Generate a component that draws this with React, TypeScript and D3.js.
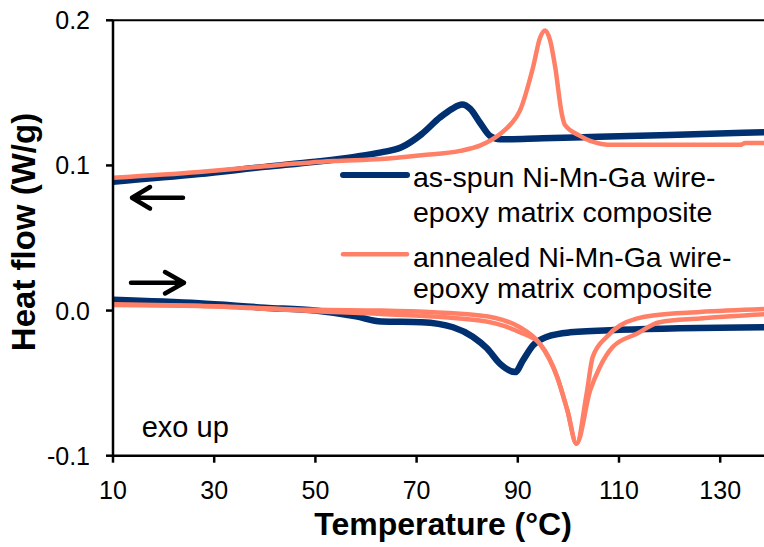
import React from "react";
import * as d3 from "d3";

// DSC traces, temperature (°C) and heat flow (W/g)
const asSpunCoolT = [10, 27, 40, 50, 58, 63, 67, 71, 74.6, 77, 79, 80.6, 82.5, 84.5, 86.5, 95, 106, 120, 140];
const asSpunCoolHF = [0.0888, 0.094, 0.099, 0.1025, 0.106, 0.109, 0.1125, 0.1216, 0.133, 0.139, 0.142, 0.139, 0.1296, 0.1204, 0.118, 0.1188, 0.1197, 0.121, 0.123];

const annealedCoolT = [10, 27, 40, 53.5, 63, 71, 78.6, 82.5, 86.5, 88.5, 90.4, 93, 94.4, 95.4, 96.4, 97.4, 98.7, 99.3, 102.3, 104.3, 108.8, 133.9, 135, 140];
const annealedCoolHF = [0.0915, 0.0955, 0.0995, 0.103, 0.1044, 0.107, 0.11, 0.1136, 0.1216, 0.128, 0.1376, 0.1675, 0.188, 0.193, 0.186, 0.1675, 0.1355, 0.128, 0.1204, 0.117, 0.1142, 0.1142, 0.1155, 0.1155];

const asSpunHeatT = [10, 27, 40, 50, 58, 63, 71, 77.2, 81.1, 83.9, 86.5, 89.5, 91, 93, 95.8, 100.3, 110, 140];
const asSpunHeatHF = [0.0074, 0.005, 0.002, 0.0, -0.004, -0.0075, -0.008, -0.0115, -0.018, -0.026, -0.0367, -0.0424, -0.0344, -0.024, -0.018, -0.015, -0.0133, -0.0115];

const annealedHeatAT = [10, 27, 50, 63, 82.5, 90.4, 94.4, 97.8, 99.8, 101.6, 103.6, 104.8, 107.6, 110.2, 116.7, 126, 140];
const annealedHeatAHF = [0.0043, 0.0034, 0.0005, 0.0, -0.0034, -0.0115, -0.023, -0.0459, -0.0688, -0.0917, -0.0573, -0.032, -0.018, -0.0103, -0.0034, -0.001, 0.0012];

const annealedHeatBT = [10, 27, 50, 63, 82.5, 90.4, 94.4, 97.8, 99.8, 101.6, 104.3, 106.2, 108.8, 113.5, 118, 126, 140];
const annealedHeatBHF = [0.0039, 0.0032, -0.0005, -0.0023, -0.0069, -0.0149, -0.023, -0.0459, -0.0688, -0.0917, -0.055, -0.039, -0.025, -0.016, -0.008, -0.0055, -0.0023];

const xTicks = [10, 30, 50, 70, 90, 110, 130];
const yTicks = [-0.1, 0.0, 0.1, 0.2];
const legendLabels = [
  ["as-spun Ni-Mn-Ga wire-", "epoxy matrix composite"],
  ["annealed Ni-Mn-Ga wire-", "epoxy matrix composite"],
];

const BLUE = "#003070";
const ORANGE = "#FF8066";
const FONT = "'Liberation Sans', Arial, sans-serif";

export default function App() {
  const width = 764, height = 547;
  const left = 113, top = 20.3, bottom = 455.7;

  const x = d3.scaleLinear().domain([10, 140]).range([left, left + 130 * 5.06]);
  const y = d3.scaleLinear().domain([-0.1, 0.2]).range([bottom, top]);

  const line = d3.line<[number, number]>()
    .x(d => x(d[0]))
    .y(d => y(d[1]))
    .curve(d3.curveMonotoneX);

  const zip = (t: number[], v: number[]) => t.map((d, i) => [d, v[i]] as [number, number]);

  const series = [
    { d: zip(asSpunCoolT, asSpunCoolHF), c: BLUE, w: 6.5 },
    { d: zip(asSpunHeatT, asSpunHeatHF), c: BLUE, w: 6.5 },
    { d: zip(annealedCoolT, annealedCoolHF), c: ORANGE, w: 4.5 },
    { d: zip(annealedHeatAT, annealedHeatAHF), c: ORANGE, w: 4.5 },
    { d: zip(annealedHeatBT, annealedHeatBHF), c: ORANGE, w: 4.5 },
  ];

  const plotRight = x(140);
  const fmt = (t: number) => d3.format(".1f")(t).replace("\u2212", "-");

  return (
    <div style={{ position: "absolute", left: 0, top: 0 }}>
      <svg width={width} height={height} style={{ display: "block", background: "#fff" }}>
        <defs>
          <clipPath id="plot">
            <rect x={left} y={top} width={plotRight - left} height={bottom - top} />
          </clipPath>
        </defs>

        {/* data */}
        <g clipPath="url(#plot)">
          {series.map((s, i) => (
            <path key={i} d={line(s.d) || ""} fill="none" stroke={s.c} strokeWidth={s.w}
              strokeLinejoin="round" strokeLinecap="round" />
          ))}
        </g>

        {/* plot frame */}
        <line x1={left} x2={plotRight} y1={top} y2={top} stroke="#000" strokeWidth={2} />
        <line x1={left} x2={left} y1={top} y2={bottom} stroke="#000" strokeWidth={2.5} />
        <line x1={left} x2={plotRight} y1={bottom} y2={bottom} stroke="#000" strokeWidth={2.5} />

        {/* y axis */}
        {yTicks.map(t => (
          <g key={t}>
            <line x1={left - 7} x2={left} y1={y(t)} y2={y(t)} stroke="#000" strokeWidth={2.5} />
            <text x={90} y={y(t)} dy="0.36em" textAnchor="end" fontFamily={FONT} fontSize={25}>
              {fmt(t)}
            </text>
          </g>
        ))}

        {/* x axis */}
        {xTicks.map(t => (
          <g key={t}>
            <line x1={x(t)} x2={x(t)} y1={bottom} y2={bottom + 7} stroke="#000" strokeWidth={2.5} />
            <text x={x(t)} y={498.5} textAnchor="middle" fontFamily={FONT} fontSize={25}>{t}</text>
          </g>
        ))}

        {/* axis titles */}
        <text x={443} y={535} textAnchor="middle" fontFamily={FONT} fontSize={32} fontWeight="bold">
          Temperature (°C)
        </text>
        <text transform="translate(35,232) rotate(-90)" textAnchor="middle" fontFamily={FONT}
          fontSize={33} fontWeight="bold">
          Heat flow (W/g)
        </text>

        {/* direction arrows */}
        <g stroke="#000" strokeWidth={4.5} fill="none" strokeLinecap="round" strokeLinejoin="round">
          <path d="M183,197.7 L132,197.7 M150,187 L132,197.7 L150,208.5" />
          <path d="M131,282.7 L184,282.7 M165,272 L184,282.7 L165,293.5" />
        </g>

        {/* legend */}
        <g fontFamily={FONT} fontSize={28.5}>
          <line x1={343} x2={407} y1={175} y2={175} stroke={BLUE} strokeWidth={6} strokeLinecap="round" />
          <text x={413} y={187.3}>{legendLabels[0][0]}</text>
          <text x={413} y={221.7}>{legendLabels[0][1]}</text>
          <line x1={343} x2={407} y1={254.3} y2={254.3} stroke={ORANGE} strokeWidth={4.5} strokeLinecap="round" />
          <text x={413} y={266.7}>{legendLabels[1][0]}</text>
          <text x={413} y={298.3}>{legendLabels[1][1]}</text>
        </g>

        <text x={141.7} y={436.7} fontFamily={FONT} fontSize={29}>exo up</text>
      </svg>
    </div>
  );
}
